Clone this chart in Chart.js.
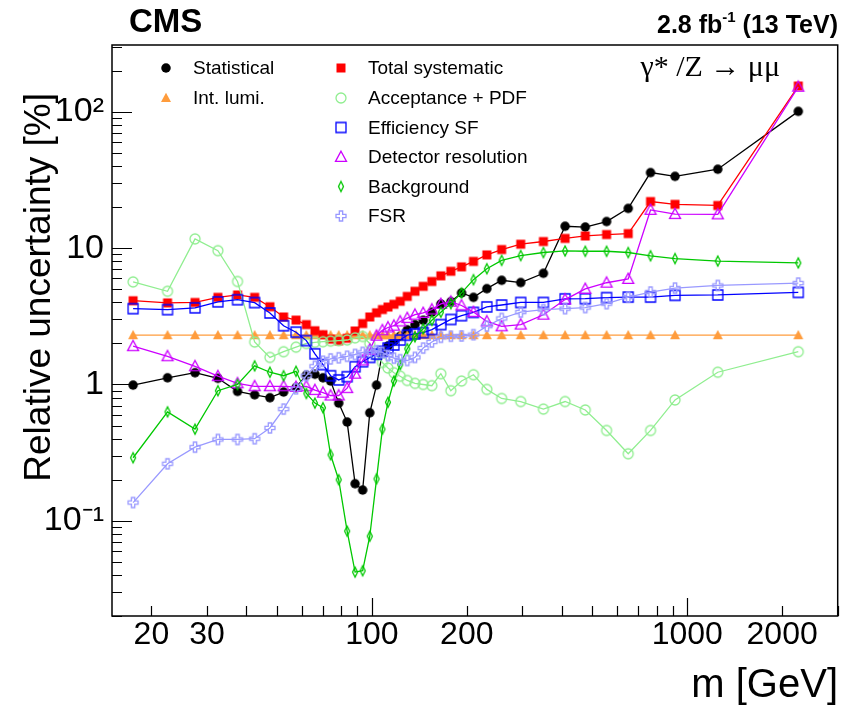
<!DOCTYPE html>
<html>
<head>
<meta charset="utf-8">
<script src="https://cdn.jsdelivr.net/npm/chart.js@4.4.0/dist/chart.umd.min.js"></script>
<style>
  html, body { margin: 0; padding: 0; background: #fff; }
  canvas { display: block; }
</style>
</head>
<body>
<canvas id="myChart" width="843" height="706"></canvas>
<script>
// bin centres in GeV
const massBins = [17.5, 22.5, 27.5, 32.5, 37.5, 42.5, 47.5, 52.5, 57.5, 62, 66, 70, 74, 78.5, 83.5, 88.5,
  93.5, 98.5, 103.5, 108, 112.5, 117.5, 123, 129.5, 137, 145.5, 155, 165.5, 178, 192.5, 210, 231.5,
  258, 296.5, 350, 410, 475, 555, 650, 765, 915, 1250, 2250];

const statistical = [0.99, 1.12, 1.22, 1.11, 0.89, 0.84, 0.80, 0.88, 0.95, 1.17, 1.19, 1.12, 1.06, 0.73, 0.53, 0.187,
  0.168, 0.62, 0.99, 1.71, 1.92, 2.08, 2.26, 2.52, 2.75, 2.96, 3.39, 3.9, 4.05, 4.7, 4.36, 5.05,
  5.82, 5.6, 6.55, 14.5, 14.3, 15.7, 19.6, 35.9, 33.7, 38.0, 101];

const intLumi = [2.3, 2.3, 2.3, 2.3, 2.3, 2.3, 2.3, 2.3, 2.3, 2.3, 2.3, 2.3, 2.3, 2.3, 2.3, 2.3,
  2.3, 2.3, 2.3, 2.3, 2.3, 2.3, 2.3, 2.3, 2.3, 2.3, 2.3, 2.3, 2.3, 2.3, 2.3, 2.3,
  2.3, 2.3, 2.3, 2.3, 2.3, 2.3, 2.3, 2.3, 2.3, 2.3, 2.3];

const totalSyst = [4.12, 3.97, 4.0, 4.36, 4.54, 4.36, 3.72, 3.13, 2.97, 2.75, 2.48, 2.32, 2.15, 2.09, 2.18, 2.47,
  2.8, 3.13, 3.36, 3.55, 3.7, 3.88, 4.08, 4.43, 4.83, 5.25, 5.7, 6.27, 6.77, 7.3, 8.0, 8.93,
  9.78, 10.7, 11.2, 11.8, 12.3, 12.6, 12.8, 22.0, 21.0, 20.6, 155];

const acceptancePdf = [5.66, 4.83, 11.7, 9.6, 5.7, 2.05, 1.58, 1.74, 1.88, 2.0, 2.04, 2.06, 2.08, 2.1, 2.12, 2.2,
  2.25, 2.0, 1.65, 1.45, 1.32, 1.22, 1.15, 1.07, 1.02, 1.0, 0.98, 1.2, 0.9, 1.06, 1.18, 0.92,
  0.79, 0.75, 0.66, 0.75, 0.65, 0.46, 0.31, 0.46, 0.77, 1.23, 1.74];

const efficiencySf = [3.6, 3.54, 3.65, 4.04, 4.19, 3.99, 3.35, 2.7, 2.42, 2.1, 1.68, 1.4, 1.16, 1.08, 1.14, 1.35,
  1.47, 1.58, 1.67, 1.75, 1.85, 1.95, 2.12, 2.3, 2.35, 2.4, 2.53, 2.75, 3.0, 3.2, 3.38, 3.71,
  3.83, 4.0, 4.0, 4.25, 4.26, 4.34, 4.38, 4.38, 4.51, 4.54, 4.74];

const detectorRes = [1.91, 1.61, 1.36, 1.15, 1.02, 0.97, 0.97, 0.97, 0.96, 0.97, 0.91, 0.87, 0.83, 0.83, 0.94, 1.2,
  1.5, 1.8, 2.28, 2.5, 2.62, 2.7, 2.9, 3.07, 3.25, 3.35, 3.55, 3.9, 4.05, 3.8, 3.4, 2.9,
  2.67, 2.75, 3.25, 4.2, 5.03, 5.58, 5.95, 19.1, 17.8, 17.7, 153];

const background = [0.29, 0.63, 0.47, 0.9, 1.0, 1.37, 1.23, 1.16, 1.25, 0.86, 0.73, 0.675, 0.305, 0.2, 0.084, 0.042,
  0.043, 0.077, 0.203, 0.47, 0.74, 1.06, 1.40, 1.83, 2.24, 2.56, 2.96, 3.39, 3.92, 4.7, 5.88, 7.07,
  8.15, 8.84, 9.3, 9.55, 9.5, 9.5, 9.3, 8.8, 8.4, 8.05, 7.8];

const fsr = [0.136, 0.262, 0.347, 0.395, 0.395, 0.40, 0.48, 0.66, 0.93, 1.16, 1.36, 1.48, 1.54, 1.57, 1.61, 1.66,
  1.72, 1.75, 1.77, 1.72, 1.63, 1.56, 1.52, 1.50, 1.58, 1.85, 2.05, 2.22, 2.26, 2.27, 2.32, 2.68,
  3.05, 3.4, 3.54, 3.6, 3.67, 3.92, 4.38, 4.77, 5.1, 5.33, 5.55];

const xTickLabels = [20, 30, 100, 200, 1000, 2000];
const yTickValues = [0.1, 1, 10, 100];
const yTickText = ['10\u207B\u00B9', '1', '10', '10\u00B2'];

const FONT = '"Liberation Sans", Arial, Helvetica, sans-serif';

function makeMarker(shape, color, size, filled) {
  const c = document.createElement('canvas');
  c.width = 16;
  c.height = 16;
  const g = c.getContext('2d');
  g.translate(8, 8);
  g.strokeStyle = color;
  g.fillStyle = color;
  g.lineWidth = 1.3;
  const h = size / 2;
  g.beginPath();
  if (shape === 'circle') {
    g.arc(0, 0, h, 0, Math.PI * 2);
  } else if (shape === 'square') {
    g.rect(-h, -h, size, size);
  } else if (shape === 'triangle') {
    g.moveTo(0, -h * 1.05);
    g.lineTo(h, h * 0.8);
    g.lineTo(-h, h * 0.8);
    g.closePath();
  } else if (shape === 'diamond') {
    g.moveTo(0, -h);
    g.lineTo(h * 0.5, 0);
    g.lineTo(0, h);
    g.lineTo(-h * 0.5, 0);
    g.closePath();
  } else if (shape === 'cross') {
    const b = size / 6;
    const pts = [[-b, -h], [b, -h], [b, -b], [h, -b], [h, b], [b, b], [b, h], [-b, h], [-b, b], [-h, b], [-h, -b], [-b, -b]];
    pts.forEach((p, i) => i ? g.lineTo(p[0], p[1]) : g.moveTo(p[0], p[1]));
    g.closePath();
  }
  if (filled) g.fill(); else g.stroke();
  return c;
}

const mStat = makeMarker('circle', '#000000', 9.5, true);
const mLumi = makeMarker('triangle', '#ff9c3c', 10, true);
const mSyst = makeMarker('square', '#ff0000', 9, true);
const mAcc = makeMarker('circle', '#90ee90', 10, false);
const mEff = makeMarker('square', '#0000ff', 10, false);
const mDet = makeMarker('triangle', '#cc00ff', 11, false);
const mBkg = makeMarker('diamond', '#00c800', 10, false);
const mFsr = makeMarker('cross', '#9999ff', 10, false);

function series(label, values, color, marker, order) {
  return {
    label: label,
    data: massBins.map((m, i) => ({ x: m, y: values[i] })),
    borderColor: color,
    borderWidth: 1.3,
    pointStyle: marker,
    pointRadius: 4,
    tension: 0,
    fill: false,
    order: order,
    clip: false
  };
}

const extras = {
  id: 'extras',
  afterDraw(chart) {
    const { ctx, chartArea: a, scales: { x, y } } = chart;
    ctx.save();
    ctx.strokeStyle = '#000';
    ctx.lineWidth = 1.2;
    ctx.beginPath();
    for (let d = -2; d <= 2; d++) {
      for (let k = 1; k <= 9; k++) {
        const v = k * Math.pow(10, d);
        if (v < 0.02 || v > 310) continue;
        const py = Math.round(y.getPixelForValue(v)) + 0.5;
        ctx.moveTo(a.left, py);
        ctx.lineTo(a.left + (k === 1 ? 20 : 10), py);
      }
    }
    for (let d = 1; d <= 3; d++) {
      for (let k = 1; k <= 9; k++) {
        const v = k * Math.pow(10, d);
        if (v < 15 || v > 3000) continue;
        const px = Math.round(x.getPixelForValue(v)) + 0.5;
        ctx.moveTo(px, a.bottom);
        ctx.lineTo(px, a.bottom - (k === 1 ? 18 : 10));
      }
    }
    ctx.stroke();
    ctx.lineWidth = 1.5;
    ctx.strokeRect(a.left, a.top, a.right - a.left, a.bottom - a.top);

    // axis titles
    ctx.fillStyle = '#000';
    ctx.font = '40px ' + FONT;
    ctx.textAlign = 'right';
    ctx.textBaseline = 'alphabetic';
    ctx.fillText('m [GeV]', 838, 697);
    ctx.save();
    ctx.translate(50, 93);
    ctx.rotate(-Math.PI / 2);
    ctx.font = '37px ' + FONT;
    ctx.fillText('Relative uncertainty [%]', 0, 0);
    ctx.restore();

    // header
    ctx.textAlign = 'left';
    ctx.font = 'bold 33px ' + FONT;
    ctx.fillText('CMS', 129, 32);
    const part1 = '2.8 fb';
    const sup = '-1';
    const part2 = ' (13 TeV)';
    ctx.font = 'bold 25px ' + FONT;
    const w1 = ctx.measureText(part1).width;
    const w3 = ctx.measureText(part2).width;
    ctx.font = 'bold 15px ' + FONT;
    const w2 = ctx.measureText(sup).width;
    let sx = 838 - w1 - w2 - w3;
    ctx.font = 'bold 25px ' + FONT;
    ctx.fillText(part1, sx, 33);
    ctx.font = 'bold 15px ' + FONT;
    ctx.fillText(sup, sx + w1, 22);
    ctx.font = 'bold 25px ' + FONT;
    ctx.fillText(part2, sx + w1 + w2, 33);

    ctx.font = '30px "Liberation Serif", "Times New Roman", serif';
    ctx.textAlign = 'right';
    ctx.fillText('\u03B3* /Z \u2192 \u03BC\u03BC', 780, 76);

    // legend
    const items = [
      [mStat, 'Statistical', 166, 68],
      [mLumi, 'Int. lumi.', 166, 98],
      [mSyst, 'Total systematic', 341, 68],
      [mAcc, 'Acceptance + PDF', 341, 98],
      [mEff, 'Efficiency SF', 341, 127.5],
      [mDet, 'Detector resolution', 341, 157],
      [mBkg, 'Background', 341, 186.5],
      [mFsr, 'FSR', 341, 216]
    ];
    ctx.textAlign = 'left';
    ctx.font = '19px ' + FONT;
    ctx.textBaseline = 'middle';
    items.forEach(([m, label, lx, ly]) => {
      ctx.drawImage(m, lx - 8, ly - 8);
      ctx.fillText(label, lx + 27, ly + 1);
    });
    ctx.restore();
  }
};

const ctx = document.getElementById('myChart').getContext('2d');

new Chart(ctx, {
  type: 'line',
  data: {
    datasets: [
      series('Statistical', statistical, '#000000', mStat, 8),
      series('Int. lumi.', intLumi, '#ff9c3c', mLumi, 7),
      series('Total systematic', totalSyst, '#ff0000', mSyst, 6),
      series('Acceptance + PDF', acceptancePdf, '#90ee90', mAcc, 5),
      series('Efficiency SF', efficiencySf, '#0000ff', mEff, 4),
      series('Detector resolution', detectorRes, '#cc00ff', mDet, 3),
      series('Background', background, '#00c800', mBkg, 2),
      series('FSR', fsr, '#9999ff', mFsr, 1)
    ]
  },
  options: {
    responsive: false,
    animation: false,
    layout: { padding: { top: 45, right: 5, left: 0, bottom: 0 } },
    plugins: { legend: { display: false }, tooltip: { enabled: false } },
    scales: {
      x: {
        type: 'logarithmic',
        min: 15,
        max: 3000,
        grid: { display: false, drawTicks: false },
        border: { display: false },
        afterBuildTicks: s => { s.ticks = xTickLabels.map(v => ({ value: v })); },
        afterFit: s => { s.height = 90; },
        ticks: {
          autoSkip: false,
          maxRotation: 0,
          padding: 0,
          color: '#000',
          font: { family: FONT, size: 32 },
          callback: v => String(v)
        }
      },
      y: {
        type: 'logarithmic',
        min: 0.02,
        max: 310,
        grid: { display: false, drawTicks: false },
        border: { display: false },
        afterBuildTicks: s => { s.ticks = yTickValues.map(v => ({ value: v })); },
        afterFit: s => { s.width = 112; },
        ticks: {
          autoSkip: false,
          padding: 8,
          color: '#000',
          font: { family: FONT, size: 34 },
          callback: v => yTickText[yTickValues.indexOf(v)]
        }
      }
    }
  },
  plugins: [extras]
});
</script>
</body>
</html>
